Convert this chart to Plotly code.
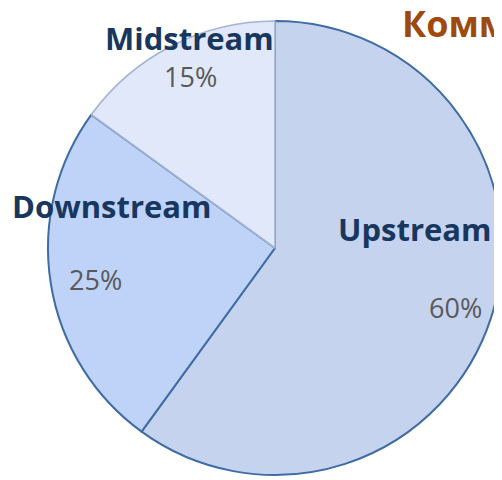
import plotly.graph_objects as go

# Data
segments = ["Upstream", "Downstream", "Midstream"]
shares = [60, 25, 15]
share_labels = ["60%", "25%", "15%"]
corner_title = "Комментарий"

slice_colors = ["#c6d3ef", "#bfd3f9", "#e0e8fa"]
edge_colors = ["#3f6ca3", "#3f6ca3", "#a3b4d2"]
edge_widths = [2, 2, 1.6]

# page body has an 8px margin; figure sized to fit the window
OFF = 8
W, H = 494, 472


def px(x):
    return (x - OFF) / W


def py(y):
    return 1 - (y - OFF) / H


fig = go.Figure()
fig.add_trace(go.Pie(
    labels=segments,
    values=shares,
    sort=False,
    direction="clockwise",
    rotation=0,
    textinfo="none",
    hoverinfo="label+percent",
    showlegend=False,
    marker=dict(colors=slice_colors, line=dict(color=edge_colors, width=edge_widths)),
    domain=dict(x=[px(48), 1.0], y=[py(478), py(18)]),
))

label_font = dict(family="Open Sans", size=31, color="#17375e")
pct_font = dict(family="Open Sans", size=27, color="#595959")

name_pos = {"Upstream": (414, 229), "Downstream": (111, 206), "Midstream": (189, 38)}
pct_pos = {"60%": (455, 307), "25%": (95, 279), "15%": (190, 77)}

annotations = []
for seg, pl in zip(segments, share_labels):
    x, y = name_pos[seg]
    annotations.append(dict(text="<b>%s</b>" % seg, x=px(x), y=py(y), xref="paper", yref="paper",
                            xanchor="center", yanchor="middle", showarrow=False, font=label_font))
    x, y = pct_pos[pl]
    annotations.append(dict(text=pl, x=px(x), y=py(y), xref="paper", yref="paper",
                            xanchor="center", yanchor="middle", showarrow=False, font=pct_font))

annotations.append(dict(text="<b>%s</b>" % corner_title, x=px(400), y=py(23), xref="paper", yref="paper",
                        xanchor="left", yanchor="middle", showarrow=False,
                        font=dict(family="Open Sans", size=36, color="#9e4a0c")))

fig.update_layout(
    width=W, height=H,
    margin=dict(l=0, r=0, t=0, b=0),
    paper_bgcolor="white",
    plot_bgcolor="white",
    annotations=annotations,
)

fig.write_html("out.html")
